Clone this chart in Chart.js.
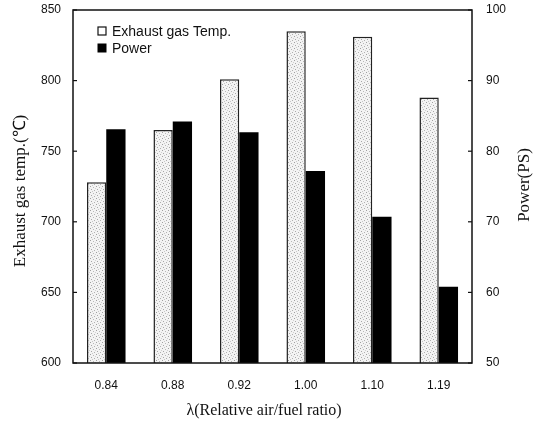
<!DOCTYPE html>
<html><head><meta charset="utf-8">
<script src="https://cdn.jsdelivr.net/npm/chart.js@4"></script>
<style>html,body{margin:0;padding:0;background:#fff}#wrap{width:540px;height:422px}</style>
</head><body><div id="wrap"><canvas id="c" width="540" height="422"></canvas></div>
<script>
const categories = ['0.84','0.88','0.92','1.00','1.10','1.19'];
const exhaustTemp = [728, 765, 801, 835, 831, 788];
const power = [83.1, 84.2, 82.7, 77.2, 70.7, 60.8];
const leftTicks = [600, 650, 700, 750, 800, 850];
const rightTicks = [50, 60, 70, 80, 90, 100];

function stipple(){
  const p = document.createElement('canvas'); p.width = 6; p.height = 6;
  const g = p.getContext('2d');
  g.fillStyle = '#f3f3f3'; g.fillRect(0,0,6,6);
  const dots = [[0,0,'#a0a0a0'],[3,1,'#b8b8b8'],[1,3,'#a8a8a8'],[4,4,'#b0b0b0'],[5,2,'#d0d0d0'],[2,5,'#c8c8c8']];
  dots.forEach(d => { g.fillStyle = d[2]; g.fillRect(d[0], d[1], 1, 1); });
  return g.createPattern(p,'repeat');
}
const ctx0 = document.getElementById('c').getContext('2d');
const pat = stipple();

const deco = {
  id:'deco',
  afterDraw(chart){
    const c = chart.ctx, a = chart.chartArea;
    const yL = chart.scales.y, yR = chart.scales.y1;
    c.save();
    c.strokeStyle = '#111'; c.lineWidth = 1.5;
    c.strokeRect(a.left, a.top, a.right - a.left, a.bottom - a.top);
    c.lineWidth = 1.2;
    leftTicks.forEach(v => { const y = yL.getPixelForValue(v); c.beginPath(); c.moveTo(a.left, y); c.lineTo(a.left + 4, y); c.stroke(); });
    rightTicks.forEach(v => { const y = yR.getPixelForValue(v); c.beginPath(); c.moveTo(a.right, y); c.lineTo(a.right - 4, y); c.stroke(); });
    c.fillStyle = '#111';
    c.textAlign = 'center'; c.textBaseline = 'middle';
    c.font = '17px "Liberation Serif", serif';
    c.save(); c.translate(21, 191); c.rotate(-Math.PI/2); c.fillText('Exhaust gas temp.(℃)', 0, 0); c.restore();
    c.save(); c.translate(525, 185); c.rotate(-Math.PI/2); c.fillText('Power(PS)', 0, 0); c.restore();
    c.font = '16px "Liberation Serif", serif';
    c.fillText('λ(Relative air/fuel ratio)', 264, 411);
    c.font = '14px "Liberation Sans", Arial, sans-serif';
    c.textAlign = 'left';
    const ds = chart.data.datasets;
    const lx = a.left + 25;
    [a.top + 21, a.top + 38].forEach((yy, i) => {
      c.lineWidth = 1.2; c.strokeStyle = '#111';
      if (i === 0) { c.fillStyle = '#fff'; c.fillRect(lx, yy-4, 8, 8); c.strokeRect(lx, yy-4, 8, 8); }
      else { c.fillStyle = '#000'; c.fillRect(lx-0.5, yy-4.5, 9, 9); }
      c.fillStyle = '#111';
      c.fillText(ds[i].label, lx + 14, yy + 1);
    });
    c.restore();
  }
};

function noVPad(s){ s.paddingTop = 0; s.paddingBottom = 0; }

new Chart(ctx0, {
  type: 'bar',
  data: {
    labels: categories,
    datasets: [
      { label: 'Exhaust gas Temp.', data: exhaustTemp, yAxisID: 'y', backgroundColor: pat, borderColor: '#222', borderWidth: 1.5, borderSkipped: 'bottom' },
      { label: 'Power', data: power, yAxisID: 'y1', backgroundColor: '#000', borderColor: '#000', borderWidth: 0 }
    ]
  },
  options: {
    responsive: false, animation: false,
    layout: { padding: { top: 10, left: 0, right: 0, bottom: 0 } },
    plugins: { legend: { display: false }, tooltip: { enabled: false } },
    datasets: { bar: { barPercentage: 1.0, categoryPercentage: 0.58 } },
    scales: {
      x: {
        grid: { display: false, drawTicks: false }, border: { display: false },
        ticks: { color: '#111', padding: 15, font: { family: '"Liberation Sans", Arial, sans-serif', size: 12 } },
        afterFit(s){ s.height = 59; s.paddingLeft = 0; s.paddingRight = 0; }
      },
      y: {
        position: 'left', min: 600, max: 850,
        afterBuildTicks(s){ s.ticks = leftTicks.map(v => ({ value: v })); },
        grid: { display: false, drawTicks: false }, border: { display: false },
        ticks: { color: '#111', padding: 12, font: { family: '"Liberation Sans", Arial, sans-serif', size: 12 } },
        afterFit(s){ s.width = 73; noVPad(s); }
      },
      y1: {
        position: 'right', min: 50, max: 100,
        afterBuildTicks(s){ s.ticks = rightTicks.map(v => ({ value: v })); },
        grid: { display: false, drawTicks: false }, border: { display: false },
        ticks: { color: '#111', padding: 14, font: { family: '"Liberation Sans", Arial, sans-serif', size: 12 } },
        afterFit(s){ s.width = 68; noVPad(s); }
      }
    }
  },
  plugins: [deco]
});
</script>
</body></html>
